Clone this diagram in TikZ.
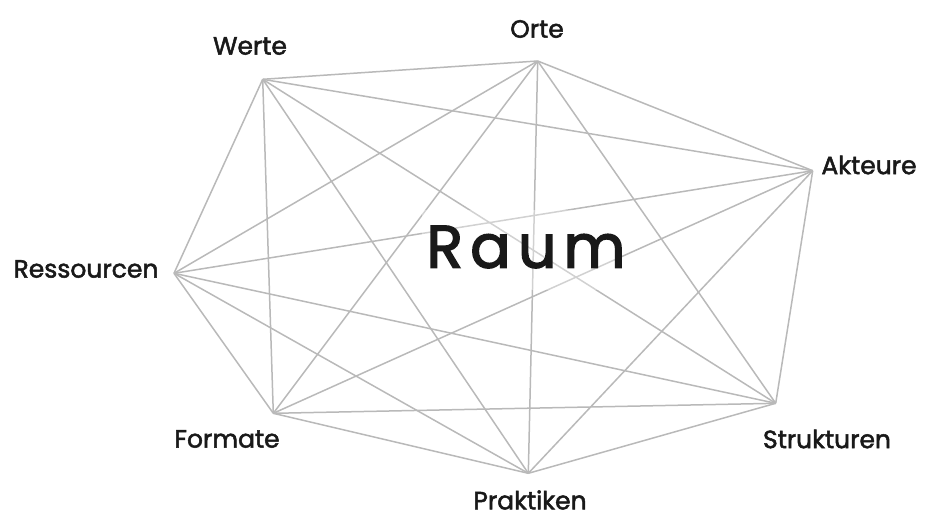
\documentclass[tikz,border=0pt]{standalone}
\usepackage{fontspec}
\setmainfont{Poppins}
\newfontfamily\lblfont{Poppins}[FakeBold=2]
\newfontfamily\raumfont{Poppins}[LetterSpace=12,FakeBold=2.5]
\definecolor{edgegray}{RGB}{185,185,185}
\definecolor{textblack}{RGB}{25,25,25}
\begin{document}
\begin{tikzpicture}[x=1pt,y=-1pt,
  lbl/.style={font=\lblfont\fontsize{25}{25}\selectfont, text=textblack, inner sep=0pt},
  edge/.style={draw=edgegray, line width=1.5pt}]
\useasboundingbox (0,0) rectangle (934,519);
\coordinate (O) at (537.7,61);
\coordinate (W) at (262.7,79.3);
\coordinate (A) at (812.7,170.7);
\coordinate (R) at (174,273.3);
\coordinate (F) at (273.3,413.3);
\coordinate (P) at (528.3,473.3);
\coordinate (S) at (775.7,403.3);
\foreach \a/\b in {O/W,O/A,O/R,O/F,O/P,O/S,W/A,W/R,W/F,W/P,W/S,A/R,A/F,A/P,A/S,R/F,R/P,R/S,F/P,F/S,P/S}
  \draw[edge] (\a) -- (\b);
\node[fill=white, fill opacity=0.35, minimum width=200pt, minimum height=80pt] (bg) at (522,250) {};
\node[text=textblack, inner sep=0pt, font=\raumfont\fontsize{60}{60}\selectfont] (raum) at (526,247) {Raum};
\node[lbl] (orte) at (537,29) {Orte};
\node[lbl] (werte) at (250,46) {Werte};
\node[lbl] (akteure) at (869,165) {Akteure};
\node[lbl] (ress) at (86,269) {Ressourcen};
\node[lbl] (form) at (227,439) {Formate};
\node[lbl] (prak) at (530,500) {Praktiken};
\node[lbl] (struk) at (827,439) {Strukturen};
\end{tikzpicture}
\end{document}
